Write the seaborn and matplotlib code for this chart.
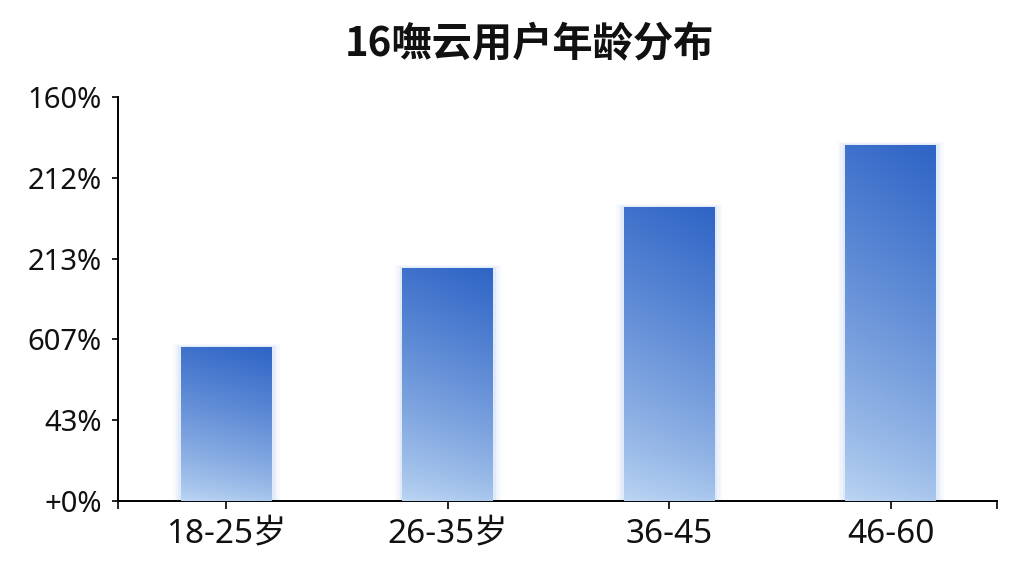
import numpy as np
import pandas as pd
import matplotlib
matplotlib.use('Agg')
import matplotlib.pyplot as plt
import matplotlib.colors as mcolors
import seaborn as sns

# 数据
age_groups = ['18-25岁', '26-35岁', '36-45', '46-60']
share = [38.1, 57.7, 72.8, 88.1]
ytick_vals = [0, 20, 40, 60, 80, 100]
ytick_labels = ['+0%', '43%', '607%', '213%', '212%', '160%']
title = '16嘸云用户年龄分布'

df = pd.DataFrame({'age': age_groups, 'share': share})

sns.set_style('white')
plt.rcParams['font.family'] = ['Noto Sans', 'Noto Sans CJK SC', 'DejaVu Sans']
plt.rcParams['axes.unicode_minus'] = False
plt.rcParams['text.color'] = '#111111'
plt.rcParams['xtick.color'] = '#111111'
plt.rcParams['ytick.color'] = '#111111'

fig = plt.figure(figsize=(10.24, 5.76), dpi=100)
ax = fig.add_axes([0.1152, 0.1302, 0.8584, 0.7014])

sns.barplot(data=df, x='age', y='share', color='#4a80d6', width=0.41,
            ax=ax, saturation=1, zorder=2, linewidth=0, edgecolor='none')

# 渐变填充：顶部深蓝，底部浅蓝，右侧略深
top_c = np.array(mcolors.to_rgb('#2e64c6'))
bot_c = np.array(mcolors.to_rgb('#bcd6f3'))
ny, nx = 200, 60
v = np.linspace(0, 1, ny)[:, None]
u = np.linspace(0, 1, nx)[None, :]
t = np.clip(0.88 * v ** 0.8 + 0.12 * u, 0, 1)
img = bot_c[None, None, :] * (1 - t[..., None]) + top_c[None, None, :] * t[..., None]

for p in ax.patches:
    x0, y0 = p.get_x(), p.get_y()
    w, h = p.get_width(), p.get_height()
    # 柔和光晕
    for k, a in [(0.035, 0.07), (0.022, 0.09), (0.012, 0.12)]:
        ax.add_patch(plt.Rectangle((x0 - k, y0), w + 2 * k, h + k * 22,
                                   color='#8fb6ec', alpha=a, lw=0, zorder=1))
    im = ax.imshow(img, extent=(x0, x0 + w, y0, y0 + h), origin='lower',
                   aspect='auto', zorder=3, interpolation='bilinear')
    im.set_clip_path(p)

ax.set_xlim(-0.49, 3.48)
ax.set_ylim(0, 100)
ax.set_yticks(ytick_vals)
ax.set_yticklabels(ytick_labels)
ax.set_xlabel('')
ax.set_ylabel('')

for s in ['top', 'right']:
    ax.spines[s].set_visible(False)
for s in ['left', 'bottom']:
    ax.spines[s].set_color('black')
    ax.spines[s].set_linewidth(1.4)

ax.tick_params(axis='y', which='major', direction='out', length=4.5, width=1.2,
               color='black', labelcolor='#111111', labelsize=21, pad=7, left=True)
ax.tick_params(axis='x', which='major', direction='out', length=6, width=1.2,
               color='black', labelcolor='#111111', labelsize=24, pad=6, bottom=True)
ax.set_xticks([-0.49, 3.48], minor=True)
ax.tick_params(axis='x', which='minor', direction='out', length=6, width=1.2,
               color='black', bottom=True)

fig.text(529 / 1024, 1 - 45 / 576, title, ha='center', va='center',
         fontsize=29, fontweight='bold', color='#111111',
         family=['Noto Sans CJK SC', 'DejaVu Sans'])

fig.savefig('out.png', dpi=100, facecolor='white')
